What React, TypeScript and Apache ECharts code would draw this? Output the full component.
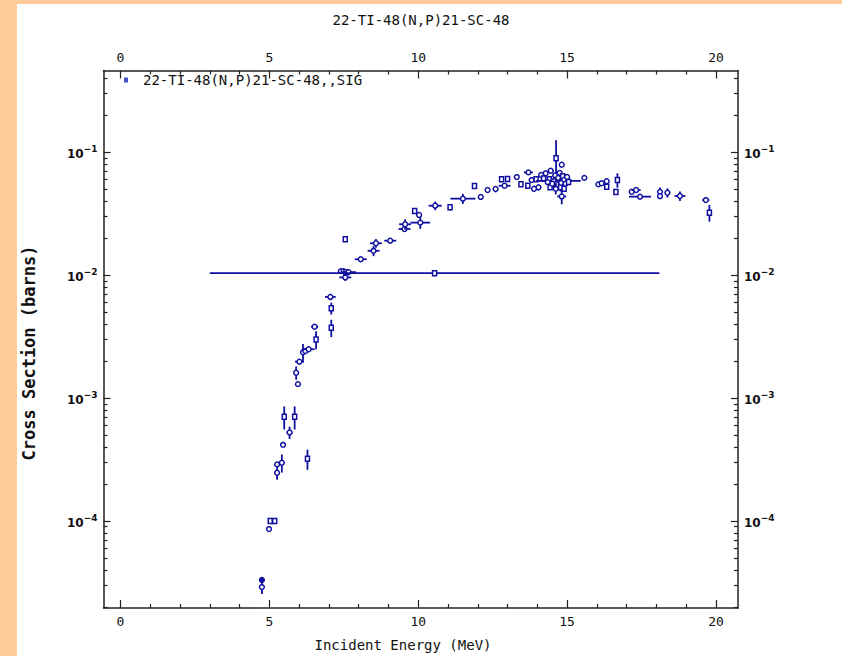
import React, { useEffect, useRef } from "react";
import * as echarts from "echarts";

// Texts
const TITLE = "22-TI-48(N,P)21-SC-48";
const LEGEND_NAME = "22-TI-48(N,P)21-SC-48,,SIG";
const X_NAME = "Incident Energy (MeV)";
const Y_NAME = "Cross Section (barns)";

// Axis ranges (energy in MeV, cross section in barns)
const X_MIN = -0.57;
const X_MAX = 20.74;
const Y_MIN = 1.96e-5;
const Y_MAX = 0.4635;

const X_LABELS = [0, 5, 10, 15, 20];
const X_MINOR = [1, 2, 3, 4, 6, 7, 8, 9, 11, 12, 13, 14, 16, 17, 18, 19];
const Y_DECADES = [1e-4, 1e-3, 1e-2, 1e-1];
const Y_MINOR_FACTORS = [2, 3, 4, 5, 6, 7, 8, 9];
const Y_MINOR_DECADES = [1e-5, 1e-4, 1e-3, 1e-2, 1e-1];

// Measurements: [energy, sigma, ±dE, ±dSigma, marker]
// marker: "s" open square, "o" open circle, "f" filled circle
type Row = [number, number, number, number, string];

const thresholdPoints: Row[] = [
  [4.75, 3.31e-5, 0, 0, "f"],
  [4.75, 2.9e-5, 0, 0.35e-5, "o"],
  [4.99, 8.6e-5, 0.06, 0, "o"],
  [5.03, 1.0e-4, 0, 0, "s"],
  [5.18, 1.0e-4, 0, 0, "s"],
  [5.26, 2.89e-4, 0.04, 0, "o"],
  [5.42, 2.98e-4, 0, 0.5e-4, "o"],
  [5.26, 2.47e-4, 0, 0.3e-4, "o"],
  [5.46, 4.17e-4, 0.04, 0, "o"],
  [5.5, 7.06e-4, 0, 1.5e-4, "s"],
  [5.85, 7.06e-4, 0, 1.5e-4, "s"],
  [5.68, 5.26e-4, 0.1, 0.6e-4, "o"],
  [6.28, 3.21e-4, 0, 0.6e-4, "s"],
  [5.9, 1.61e-3, 0, 0.2e-3, "o"],
  [5.96, 1.3e-3, 0.04, 0, "o"],
  [6.01, 1.98e-3, 0.15, 0, "o"],
  [6.13, 2.36e-3, 0, 0.4e-3, "o"],
  [6.21, 2.42e-3, 0.05, 0, "o"],
  [6.32, 2.5e-3, 0.2, 0, "o"],
  [6.57, 3.0e-3, 0, 0.5e-3, "s"],
  [6.52, 3.81e-3, 0.12, 0, "o"],
];

const risePoints: Row[] = [
  [7.08, 3.74e-3, 0, 0.6e-3, "s"],
  [7.08, 5.38e-3, 0, 0.6e-3, "s"],
  [7.05, 6.66e-3, 0.18, 0.4e-3, "o"],
  [7.55, 9.6e-3, 0.2, 0.6e-3, "o"],
  [7.4, 0.0108, 0.05, 0, "o"],
  [7.49, 0.0108, 0.05, 0, "o"],
  [7.57, 0.0106, 0, 0, "s"],
  [7.66, 0.0106, 0.25, 0, "o"],
  [10.55, 0.0104, 7.55, 0, "s"],
  [7.55, 0.0196, 0, 0, "s"],
  [8.07, 0.0135, 0.2, 0, "o"],
  [8.5, 0.0158, 0.2, 0.0015, "o"],
  [8.58, 0.0182, 0.2, 0.0015, "o"],
  [9.06, 0.0191, 0.2, 0, "o"],
  [9.54, 0.0238, 0.2, 0, "o"],
  [9.56, 0.026, 0.2, 0.0025, "o"],
  [9.88, 0.0333, 0, 0, "s"],
  [10.03, 0.0309, 0.05, 0, "o"],
  [10.07, 0.0268, 0.33, 0.003, "o"],
  [10.57, 0.0368, 0.22, 0.003, "o"],
  [11.07, 0.0357, 0, 0.002, "s"],
];

const plateauPoints: Row[] = [
  [11.5, 0.042, 0.42, 0.004, "o"],
  [11.89, 0.0532, 0, 0, "s"],
  [12.1, 0.0434, 0, 0, "o"],
  [12.33, 0.0494, 0, 0, "o"],
  [12.6, 0.0503, 0, 0.003, "o"],
  [12.8, 0.0604, 0, 0, "s"],
  [13.0, 0.0607, 0, 0, "s"],
  [12.9, 0.0535, 0.2, 0, "o"],
  [13.31, 0.0629, 0, 0, "o"],
  [13.45, 0.0549, 0, 0, "s"],
  [13.68, 0.0535, 0, 0, "s"],
  [13.7, 0.0687, 0.15, 0, "o"],
  [13.81, 0.0595, 0, 0, "o"],
];

const fourteenMeVPoints: Row[] = [
  [13.89, 0.0506, 0, 0.003, "o"],
  [13.96, 0.0604, 0, 0, "s"],
  [14.04, 0.0519, 0, 0.003, "o"],
  [14.13, 0.0654, 0, 0, "o"],
  [14.21, 0.0614, 0.05, 0, "s"],
  [14.28, 0.0675, 0, 0, "o"],
  [14.4, 0.0604, 0, 0, "s"],
  [14.45, 0.0709, 0.1, 0, "o"],
  [14.43, 0.0519, 0, 0, "s"],
  [14.63, 0.0897, 0, 0.036, "s"],
  [14.82, 0.0793, 0, 0, "o"],
  [14.82, 0.0438, 0.15, 0.006, "o"],
  [14.71, 0.0587, 0.75, 0, "o"],
  [14.55, 0.058, 0, 0.008, "s"],
  [14.6, 0.065, 0, 0, "o"],
  [14.65, 0.055, 0.1, 0, "s"],
  [14.7, 0.062, 0, 0.006, "o"],
  [14.75, 0.068, 0, 0, "o"],
  [14.78, 0.052, 0, 0.004, "s"],
  [14.8, 0.0565, 0.05, 0, "o"],
  [14.85, 0.064, 0, 0, "s"],
  [14.9, 0.06, 0, 0, "o"],
  [14.95, 0.0555, 0, 0, "o"],
  [15.0, 0.063, 0, 0, "o"],
  [15.05, 0.0575, 0.05, 0, "s"],
  [14.5, 0.0555, 0.15, 0, "o"],
  [14.35, 0.0572, 0, 0, "o"],
  [14.62, 0.0505, 0, 0.005, "o"],
  [14.9, 0.0505, 0, 0, "s"],
];

const highEnergyPoints: Row[] = [
  [15.58, 0.062, 0, 0.003, "o"],
  [16.05, 0.0549, 0, 0, "o"],
  [16.16, 0.056, 0, 0, "o"],
  [16.33, 0.0582, 0, 0, "o"],
  [16.33, 0.0525, 0, 0, "s"],
  [16.69, 0.0596, 0, 0.008, "s"],
  [16.64, 0.0475, 0, 0, "s"],
  [17.17, 0.0478, 0, 0, "o"],
  [17.32, 0.0494, 0.15, 0, "o"],
  [17.45, 0.0436, 0.37, 0, "o"],
  [18.12, 0.0477, 0, 0.004, "o"],
  [18.12, 0.044, 0, 0, "o"],
  [18.37, 0.0469, 0, 0.004, "o"],
  [18.79, 0.0441, 0.18, 0.004, "o"],
  [19.66, 0.0409, 0.12, 0, "o"],
  [19.78, 0.0323, 0, 0.005, "s"],
];

const DATA_COLOR = "#1010a0";
const FRAME_COLOR = "#222222";
const MONO = "'DejaVu Sans Mono', monospace";

const MARKER_CODE: Record<string, number> = { s: 0, o: 1, f: 2 };

function toSeriesData(rows: Row[]) {
  return rows.map(([e, s, de, ds, m]) => {
    const lo = s - ds > 0 ? s - ds : s;
    return [e, Math.log10(s), de, Math.log10(s + ds), Math.log10(lo), MARKER_CODE[m]];
  });
}

export default function App() {
  const ref = useRef<HTMLDivElement>(null);

  useEffect(() => {
    if (!ref.current) return;
    const chart = echarts.init(ref.current, undefined, { renderer: "svg" });

    const allRows = [
      ...thresholdPoints,
      ...risePoints,
      ...plateauPoints,
      ...fourteenMeVPoints,
      ...highEnergyPoints,
    ];

    const yMinorTicks: number[] = [];
    Y_MINOR_DECADES.forEach((d) =>
      Y_MINOR_FACTORS.forEach((k) => yMinorTicks.push(Math.log10(k * d)))
    );
    const yMajorTicks = Y_DECADES.map((d) => Math.log10(d));

    const lineStyle = { color: FRAME_COLOR, width: 1.5 };

    const xAxisBase = (position: string, major: boolean) => ({
      type: "value",
      position,
      min: X_MIN,
      max: X_MAX,
      axisLine: { show: major, onZero: false, lineStyle },
      axisTick: {
        show: true,
        inside: true,
        length: major ? 8 : 4,
        customValues: major ? X_LABELS : X_MINOR,
        lineStyle: { color: FRAME_COLOR, width: 1.2 },
      },
      axisLabel: major
        ? {
            show: true,
            customValues: X_LABELS,
            margin: 7,
            fontFamily: MONO,
            fontSize: 13,
            color: "#111",
          }
        : { show: false },
      splitLine: { show: false },
    });

    const yAxisBase = (position: string, major: boolean) => ({
      type: "value",
      position,
      min: Math.log10(Y_MIN),
      max: Math.log10(Y_MAX),
      axisLine: { show: major, onZero: false, lineStyle },
      axisTick: {
        show: true,
        inside: true,
        length: major ? 7 : 4,
        customValues: major ? yMajorTicks : yMinorTicks,
        lineStyle: { color: FRAME_COLOR, width: 1.2 },
      },
      axisLabel: major
        ? {
            show: true,
            customValues: yMajorTicks,
            margin: 6,
            formatter: (v: number) => `{b|10}{s|\u2212${Math.round(-v)}}`,
            rich: {
              b: {
                fontFamily: "'DejaVu Sans', sans-serif",
                fontWeight: "bold",
                fontSize: 12,
                color: "#111",
                lineHeight: 16,
                verticalAlign: "bottom",
              },
              s: {
                fontFamily: "'DejaVu Sans', sans-serif",
                fontWeight: "bold",
                fontSize: 9,
                color: "#111",
                lineHeight: 16,
                verticalAlign: "top",
                padding: [0, 0, 7, 0],
              },
            },
          }
        : { show: false },
      splitLine: { show: false },
    });

    const option: any = {
      animation: false,
      backgroundColor: "#ffffff",
      title: {
        text: TITLE,
        left: "center",
        top: 8,
        textStyle: {
          fontFamily: MONO,
          fontSize: 14,
          fontWeight: "normal",
          color: "#111",
        },
      },
      legend: {
        left: 124,
        top: 73,
        padding: 0,
        itemWidth: 4,
        itemHeight: 5,
        selectedMode: false,
        data: [
          {
            name: LEGEND_NAME,
            icon: "rect",
            itemStyle: { color: "#4a4ad0" },
          },
        ],
        textStyle: {
          fontFamily: MONO,
          fontSize: 14,
          color: "#111",
          padding: [0, 0, 0, 10],
        },
      },
      grid: { left: 103.5, right: 104, top: 70.5, bottom: 48, containLabel: false },
      xAxis: [
        xAxisBase("bottom", true),
        xAxisBase("top", true),
        xAxisBase("bottom", false),
        xAxisBase("top", false),
      ],
      yAxis: [
        yAxisBase("left", true),
        yAxisBase("right", true),
        yAxisBase("left", false),
        yAxisBase("right", false),
      ],
      graphic: [
        {
          type: "rect",
          z: -10,
          shape: { x: 0, y: 0, width: 17, height: 656 },
          style: { fill: "#ffcc99" },
        },
        {
          type: "rect",
          z: -10,
          shape: { x: 0, y: 0, width: 842, height: 4 },
          style: { fill: "#ffcc99" },
        },
        {
          type: "text",
          x: 403,
          y: 645,
          style: {
            text: X_NAME,
            align: "center",
            verticalAlign: "middle",
            fontFamily: MONO,
            fontSize: 14,
            fill: "#111",
          },
        },
        {
          type: "text",
          x: 29,
          y: 353,
          rotation: Math.PI / 2,
          style: {
            text: Y_NAME,
            align: "center",
            verticalAlign: "middle",
            fontFamily: MONO,
            fontWeight: "bold",
            fontSize: 17,
            fill: "#111",
          },
        },
      ],
      series: [
        {
          name: LEGEND_NAME,
          type: "custom",
          xAxisIndex: 0,
          yAxisIndex: 0,
          itemStyle: { color: DATA_COLOR },
          encode: { x: 0, y: 1 },
          data: toSeriesData(allRows),
          renderItem: (_params: any, api: any) => {
            const e = api.value(0);
            const ly = api.value(1);
            const de = api.value(2);
            const hi = api.value(3);
            const lo = api.value(4);
            const kind = api.value(5);
            const c = api.coord([e, ly]);
            const children: any[] = [];
            const bar = { stroke: DATA_COLOR, lineWidth: 1.8 };
            if (de > 0) {
              const a = api.coord([e - de, ly]);
              const b = api.coord([e + de, ly]);
              children.push({
                type: "line",
                shape: { x1: a[0], y1: a[1], x2: b[0], y2: b[1] },
                style: bar,
              });
            }
            if (hi !== lo) {
              const a = api.coord([e, hi]);
              const b = api.coord([e, lo]);
              children.push({
                type: "line",
                shape: { x1: a[0], y1: a[1], x2: b[0], y2: b[1] },
                style: bar,
              });
            }
            if (kind === 0) {
              children.push({
                type: "rect",
                shape: { x: c[0] - 2, y: c[1] - 2.5, width: 4, height: 5 },
                style: { fill: "#ffffff", stroke: DATA_COLOR, lineWidth: 1.5 },
              });
            } else {
              children.push({
                type: "circle",
                shape: { cx: c[0], cy: c[1], r: 2.4 },
                style: {
                  fill: kind === 2 ? DATA_COLOR : "#ffffff",
                  stroke: DATA_COLOR,
                  lineWidth: 1.5,
                },
              });
            }
            return { type: "group", children };
          },
        },
      ],
    };

    chart.setOption(option);
    return () => chart.dispose();
  }, []);

  return (
    <div
      ref={ref}
      style={{
        position: "fixed",
        left: 0,
        top: 0,
        width: 842,
        height: 656,
        background: "#ffffff",
      }}
    />
  );
}
